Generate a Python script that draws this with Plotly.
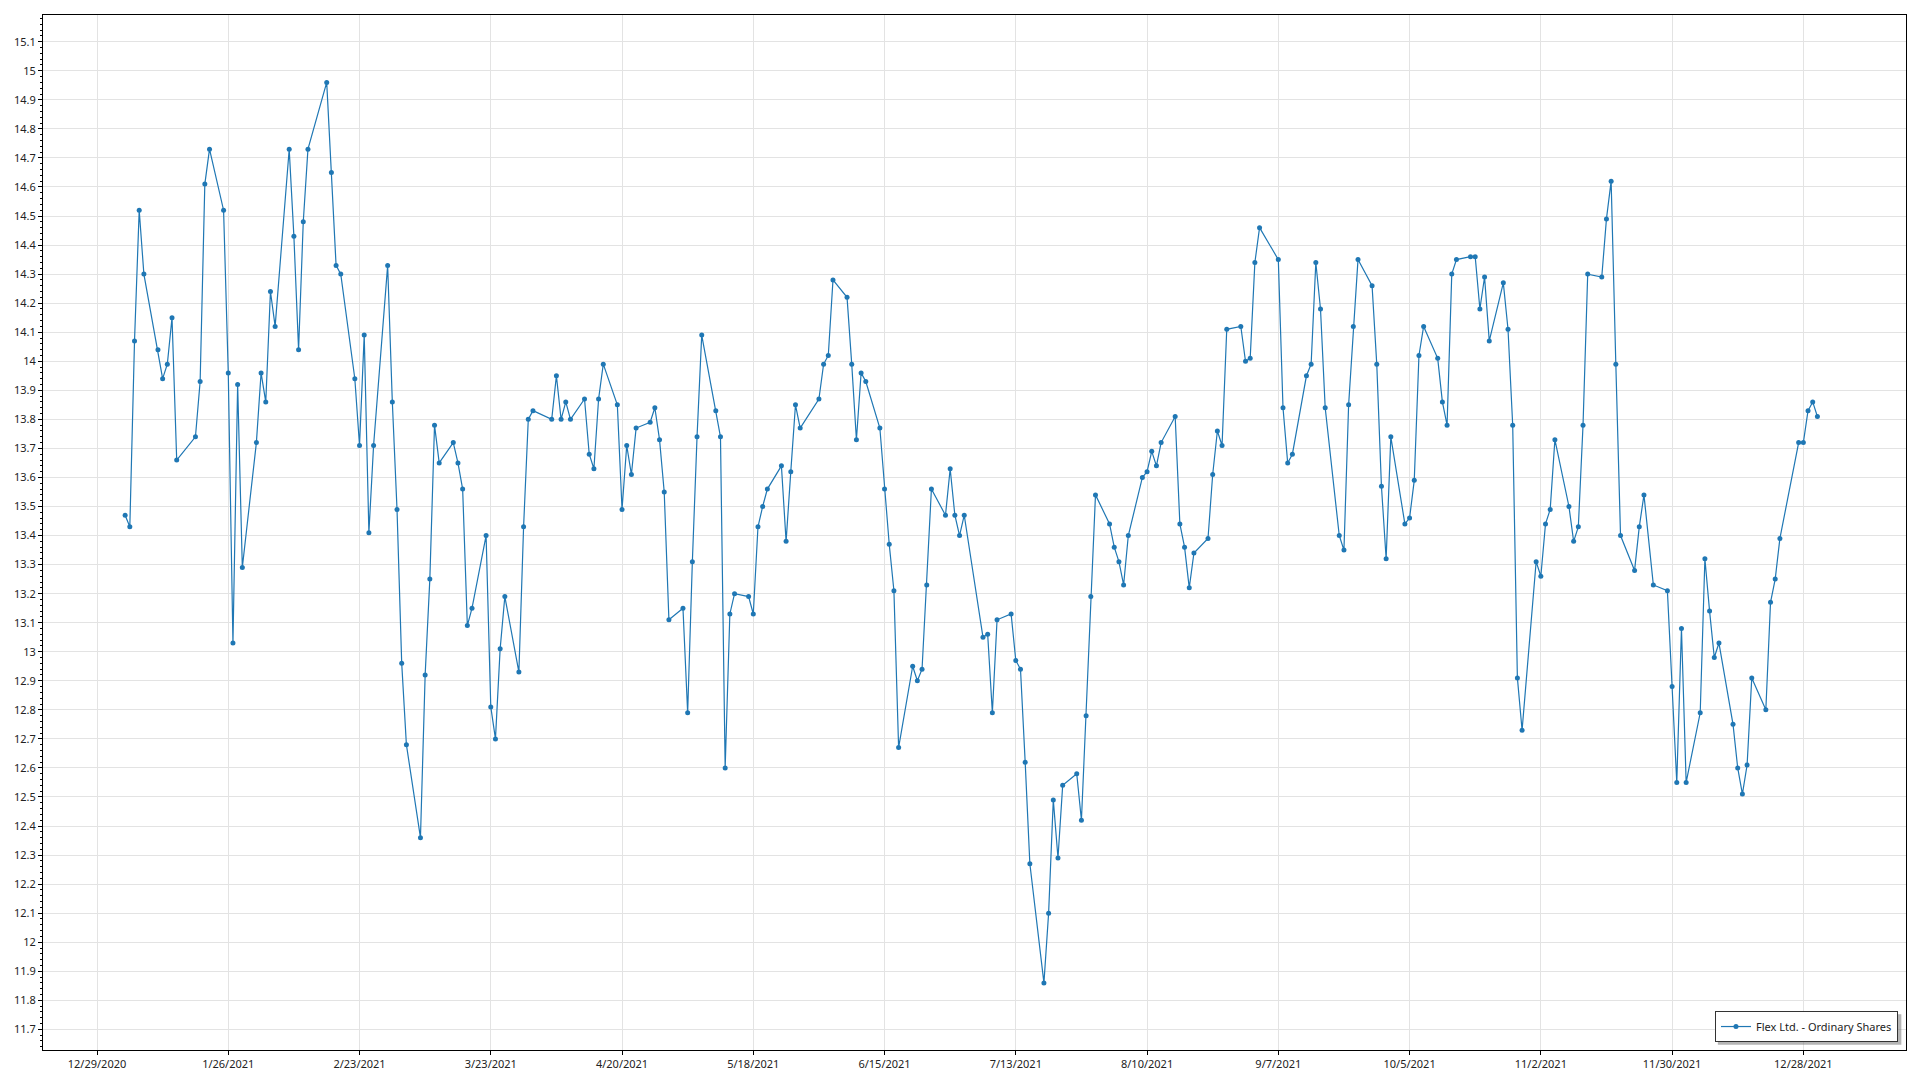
import plotly.graph_objects as go

dates = [
    "2021-01-04", "2021-01-05", "2021-01-06", "2021-01-07", "2021-01-08",
    "2021-01-11", "2021-01-12", "2021-01-13", "2021-01-14", "2021-01-15",
    "2021-01-19", "2021-01-20", "2021-01-21", "2021-01-22",
    "2021-01-25", "2021-01-26", "2021-01-27", "2021-01-28", "2021-01-29",
    "2021-02-01", "2021-02-02", "2021-02-03", "2021-02-04", "2021-02-05",
    "2021-02-08", "2021-02-09", "2021-02-10", "2021-02-11", "2021-02-12",
    "2021-02-16", "2021-02-17", "2021-02-18", "2021-02-19",
    "2021-02-22", "2021-02-23", "2021-02-24", "2021-02-25", "2021-02-26",
    "2021-03-01", "2021-03-02", "2021-03-03", "2021-03-04", "2021-03-05",
    "2021-03-08", "2021-03-09", "2021-03-10", "2021-03-11", "2021-03-12",
    "2021-03-15", "2021-03-16", "2021-03-17", "2021-03-18", "2021-03-19",
    "2021-03-22", "2021-03-23", "2021-03-24", "2021-03-25", "2021-03-26",
    "2021-03-29", "2021-03-30", "2021-03-31", "2021-04-01",
    "2021-04-05", "2021-04-06", "2021-04-07", "2021-04-08", "2021-04-09",
    "2021-04-12", "2021-04-13", "2021-04-14", "2021-04-15", "2021-04-16",
    "2021-04-19", "2021-04-20", "2021-04-21", "2021-04-22", "2021-04-23",
    "2021-04-26", "2021-04-27", "2021-04-28", "2021-04-29", "2021-04-30",
    "2021-05-03", "2021-05-04", "2021-05-05", "2021-05-06", "2021-05-07",
    "2021-05-10", "2021-05-11", "2021-05-12", "2021-05-13", "2021-05-14",
    "2021-05-17", "2021-05-18", "2021-05-19", "2021-05-20", "2021-05-21",
    "2021-05-24", "2021-05-25", "2021-05-26", "2021-05-27", "2021-05-28",
    "2021-06-01", "2021-06-02", "2021-06-03", "2021-06-04",
    "2021-06-07", "2021-06-08", "2021-06-09", "2021-06-10", "2021-06-11",
    "2021-06-14", "2021-06-15", "2021-06-16", "2021-06-17", "2021-06-18",
    "2021-06-21", "2021-06-22", "2021-06-23", "2021-06-24", "2021-06-25",
    "2021-06-28", "2021-06-29", "2021-06-30", "2021-07-01", "2021-07-02",
    "2021-07-06", "2021-07-07", "2021-07-08", "2021-07-09",
    "2021-07-12", "2021-07-13", "2021-07-14", "2021-07-15", "2021-07-16",
    "2021-07-19", "2021-07-20", "2021-07-21", "2021-07-22", "2021-07-23",
    "2021-07-26", "2021-07-27", "2021-07-28", "2021-07-29", "2021-07-30",
    "2021-08-02", "2021-08-03", "2021-08-04", "2021-08-05", "2021-08-06",
    "2021-08-09", "2021-08-10", "2021-08-11", "2021-08-12", "2021-08-13",
    "2021-08-16", "2021-08-17", "2021-08-18", "2021-08-19", "2021-08-20",
    "2021-08-23", "2021-08-24", "2021-08-25", "2021-08-26", "2021-08-27",
    "2021-08-30", "2021-08-31", "2021-09-01", "2021-09-02", "2021-09-03",
    "2021-09-07", "2021-09-08", "2021-09-09", "2021-09-10",
    "2021-09-13", "2021-09-14", "2021-09-15", "2021-09-16", "2021-09-17",
    "2021-09-20", "2021-09-21", "2021-09-22", "2021-09-23", "2021-09-24",
    "2021-09-27", "2021-09-28", "2021-09-29", "2021-09-30", "2021-10-01",
    "2021-10-04", "2021-10-05", "2021-10-06", "2021-10-07", "2021-10-08",
    "2021-10-11", "2021-10-12", "2021-10-13", "2021-10-14", "2021-10-15",
    "2021-10-18", "2021-10-19", "2021-10-20", "2021-10-21", "2021-10-22",
    "2021-10-25", "2021-10-26", "2021-10-27", "2021-10-28", "2021-10-29",
    "2021-11-01", "2021-11-02", "2021-11-03", "2021-11-04", "2021-11-05",
    "2021-11-08", "2021-11-09", "2021-11-10", "2021-11-11", "2021-11-12",
    "2021-11-15", "2021-11-16", "2021-11-17", "2021-11-18", "2021-11-19",
    "2021-11-22", "2021-11-23", "2021-11-24", "2021-11-26",
    "2021-11-29", "2021-11-30", "2021-12-01", "2021-12-02", "2021-12-03",
    "2021-12-06", "2021-12-07", "2021-12-08", "2021-12-09", "2021-12-10",
    "2021-12-13", "2021-12-14", "2021-12-15", "2021-12-16", "2021-12-17",
    "2021-12-20", "2021-12-21", "2021-12-22", "2021-12-23",
    "2021-12-27", "2021-12-28", "2021-12-29", "2021-12-30", "2021-12-31",
]

prices = [
    13.47, 13.43, 14.07, 14.52, 14.30,
    14.04, 13.94, 13.99, 14.15, 13.66,
    13.74, 13.93, 14.61, 14.73,
    14.52, 13.96, 13.03, 13.92, 13.29,
    13.72, 13.96, 13.86, 14.24, 14.12,
    14.73, 14.43, 14.04, 14.48, 14.73,
    14.96, 14.65, 14.33, 14.30,
    13.94, 13.71, 14.09, 13.41, 13.71,
    14.33, 13.86, 13.49, 12.96, 12.68,
    12.36, 12.92, 13.25, 13.78, 13.65,
    13.72, 13.65, 13.56, 13.09, 13.15,
    13.40, 12.81, 12.70, 13.01, 13.19,
    12.93, 13.43, 13.80, 13.83,
    13.80, 13.95, 13.80, 13.86, 13.80,
    13.87, 13.68, 13.63, 13.87, 13.99,
    13.85, 13.49, 13.71, 13.61, 13.77,
    13.79, 13.84, 13.73, 13.55, 13.11,
    13.15, 12.79, 13.31, 13.74, 14.09,
    13.83, 13.74, 12.60, 13.13, 13.20,
    13.19, 13.13, 13.43, 13.50, 13.56,
    13.64, 13.38, 13.62, 13.85, 13.77,
    13.87, 13.99, 14.02, 14.28,
    14.22, 13.99, 13.73, 13.96, 13.93,
    13.77, 13.56, 13.37, 13.21, 12.67,
    12.95, 12.90, 12.94, 13.23, 13.56,
    13.47, 13.63, 13.47, 13.40, 13.47,
    13.05, 13.06, 12.79, 13.11,
    13.13, 12.97, 12.94, 12.62, 12.27,
    11.86, 12.10, 12.49, 12.29, 12.54,
    12.58, 12.42, 12.78, 13.19, 13.54,
    13.44, 13.36, 13.31, 13.23, 13.40,
    13.60, 13.62, 13.69, 13.64, 13.72,
    13.81, 13.44, 13.36, 13.22, 13.34,
    13.39, 13.61, 13.76, 13.71, 14.11,
    14.12, 14.00, 14.01, 14.34, 14.46,
    14.35, 13.84, 13.65, 13.68,
    13.95, 13.99, 14.34, 14.18, 13.84,
    13.40, 13.35, 13.85, 14.12, 14.35,
    14.26, 13.99, 13.57, 13.32, 13.74,
    13.44, 13.46, 13.59, 14.02, 14.12,
    14.01, 13.86, 13.78, 14.30, 14.35,
    14.36, 14.36, 14.18, 14.29, 14.07,
    14.27, 14.11, 13.78, 12.91, 12.73,
    13.31, 13.26, 13.44, 13.49, 13.73,
    13.50, 13.38, 13.43, 13.78, 14.30,
    14.29, 14.49, 14.62, 13.99, 13.40,
    13.28, 13.43, 13.54, 13.23,
    13.21, 12.88, 12.55, 13.08, 12.55,
    12.79, 13.32, 13.14, 12.98, 13.03,
    12.75, 12.60, 12.51, 12.61, 12.91,
    12.80, 13.17, 13.25, 13.39,
    13.72, 13.72, 13.83, 13.86, 13.81,
]

series_name = "Flex Ltd. - Ordinary Shares"
x_tick_start = "2020-12-29"
x_tick_step_days = 28
y_tick_step = 0.1
y_minor_step = 0.02
x_range = ["2020-12-17 11:30", "2022-01-18 21:36"]
y_range = [11.629, 15.192]

LINE_COLOR = "#1f77b4"
FONT = "Noto Sans"

fig = go.Figure()
fig.add_trace(go.Scatter(
    x=dates, y=prices, name=series_name, mode="lines+markers",
    line=dict(color=LINE_COLOR, width=1.2),
    marker=dict(color=LINE_COLOR, size=5),
    showlegend=True,
))

# soft drop shadow behind the legend box
fig.add_shape(
    type="rect", xref="paper", yref="paper",
    x0=0.8990, x1=0.9975, y0=0.0050, y1=0.0345,
    line=dict(width=0), fillcolor="rgba(120,120,120,0.55)", layer="above",
)

fig.update_layout(
    width=1920, height=1080, autosize=False,
    margin=dict(l=43, r=14, t=15, b=30, pad=0),
    paper_bgcolor="white", plot_bgcolor="white",
    font=dict(family=FONT, size=11, color="#222222"),
    showlegend=True,
    legend=dict(
        x=0.9957, y=0.0077, xanchor="right", yanchor="bottom",
        bgcolor="white", bordercolor="#333333", borderwidth=1,
        font=dict(family=FONT, size=11, color="#222222"),
    ),
    xaxis=dict(
        type="date", range=x_range,
        tickmode="linear", tick0=x_tick_start, dtick=x_tick_step_days * 86400000,
        tickformat="%-m/%-d/%Y",
        showgrid=True, gridcolor="#e3e3e3", gridwidth=1,
        showline=True, linecolor="black", linewidth=1, mirror=True,
        ticks="outside", ticklen=4, tickcolor="black",
        zeroline=False, automargin=False,
    ),
    yaxis=dict(
        range=y_range,
        tickmode="linear", tick0=11.7, dtick=y_tick_step,
        showgrid=True, gridcolor="#e3e3e3", gridwidth=1,
        showline=True, linecolor="black", linewidth=1, mirror=True,
        ticks="outside", ticklen=4, tickcolor="black",
        minor=dict(dtick=y_minor_step, tick0=11.7, ticks="outside", ticklen=2,
                   tickcolor="black", showgrid=False),
        zeroline=False, automargin=False,
    ),
)

fig.write_html("out.html", config={"displayModeBar": False},
               post_script="document.body.style.margin='0';")
